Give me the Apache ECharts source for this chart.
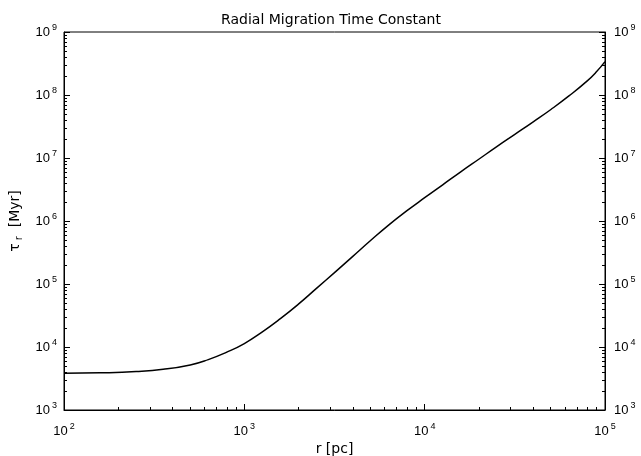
<!DOCTYPE html>
<html>
<head>
<meta charset="utf-8">
<script src="https://cdn.jsdelivr.net/npm/echarts@6/dist/echarts.min.js"></script>
<style>
  html, body { margin: 0; padding: 0; background: #fff; }
  #chart { width: 641px; height: 456px; }
</style>
</head>
<body>
<div id="chart"></div>
<script>
// Galactocentric radius r [pc]
const radius = [100, 158.5, 251.2, 354.8, 501.2, 631.0, 794.3, 1000, 1258.9,
  1584.9, 1995.3, 2511.9, 3162.3, 3981.1, 5011.9, 6309.6, 7943.3, 10000,
  12589, 15849, 19953, 25119, 31623, 39811, 50119, 63096, 79433, 89125, 100000];
// Radial migration time constant tau_r [Myr]
const tau = [3828, 3890, 4074, 4416, 5188, 6310, 8222, 11350, 17380, 28180,
  47860, 85110, 151400, 272300, 489800, 861000, 1445000, 2344000, 3758000,
  6026000, 9550000, 15140000, 23710000, 37150000, 58880000, 96610000,
  166000000, 229100000, 338800000];

// Axis ranges and decade tick values
const xRange = [100, 100000];
const yRange = [1000, 1000000000];
const xDecades = [100, 1000, 10000, 100000];
const yDecades = [1e3, 1e4, 1e5, 1e6, 1e7, 1e8, 1e9];

// Minor tick positions (2..9 times each decade)
function minorValues(decades) {
  const out = [];
  for (let i = 0; i < decades.length - 1; i++) {
    for (let k = 2; k <= 9; k++) out.push(decades[i] * k);
  }
  return out;
}

const FONT = 'Liberation Sans, Arial, Helvetica, sans-serif';
const WIDE = 'DejaVu Sans, Verdana, sans-serif';

function powLabel(v) {
  const e = Math.round(Math.log10(v));
  return '{b|10}{s|' + e + '}';
}
const powRich = {
  b: { fontSize: 13, fontFamily: FONT, color: '#000' },
  s: { fontSize: 9, fontFamily: FONT, color: '#000', padding: [0, 0, 9, 2] }
};

const lineStyle = { color: '#000', width: 1 };

function majorAxis(range, decades, pos, extra) {
  return Object.assign({
    type: 'log', logBase: 10, position: pos,
    min: range[0], max: range[1],
    axisLine: { show: true, onZero: false, lineStyle: lineStyle },
    axisTick: { show: true, inside: true, length: 6, customValues: decades, lineStyle: lineStyle },
    minorTick: { show: false },
    splitLine: { show: false },
    axisLabel: { show: true, formatter: powLabel, rich: powRich, customValues: decades }
  }, extra || {});
}

function minorAxis(range, decades, pos) {
  return {
    type: 'log', logBase: 10, position: pos,
    min: range[0], max: range[1],
    axisLine: { show: false, onZero: false },
    axisTick: { show: true, inside: true, length: 3, customValues: minorValues(decades), lineStyle: lineStyle },
    minorTick: { show: false },
    splitLine: { show: false },
    axisLabel: { show: false }
  };
}

const chart = echarts.init(document.getElementById('chart'), null, { renderer: 'canvas' });
chart.setOption({
  animation: false,
  backgroundColor: '#fff',
  title: {
    text: 'Radial Migration Time Constant',
    left: 326, top: 8, textAlign: 'center',
    textStyle: { fontSize: 14, fontWeight: 'normal', fontFamily: WIDE, color: '#000' }
  },
  grid: {
    left: 64, right: 36, top: 32, bottom: 46,
    outerBoundsMode: 'none', containLabel: false,
    show: true, borderColor: '#000', borderWidth: 1, backgroundColor: '#fff'
  },
  xAxis: [
    majorAxis(xRange, xDecades, 'bottom', {
      name: 'r [pc]', nameLocation: 'middle', nameGap: 32,
      nameTextStyle: { fontSize: 14, fontFamily: WIDE, color: '#000' },
      axisLabel: { show: true, formatter: powLabel, rich: powRich, customValues: xDecades, margin: 12 }
    }),
    minorAxis(xRange, xDecades, 'bottom')
  ],
  yAxis: [
    majorAxis(yRange, yDecades, 'left', {
      name: '{t|τ}{r|r}  [Myr]', nameLocation: 'middle', nameGap: 37, nameRotate: 90,
      nameTextStyle: {
        fontSize: 14, fontFamily: WIDE, color: '#000',
        rich: {
          t: { fontSize: 14, fontFamily: WIDE, color: '#000' },
          r: { fontSize: 10, fontFamily: WIDE, color: '#000', padding: [9, 0, 0, 3] }
        }
      },
      axisLabel: { show: true, formatter: powLabel, rich: powRich, customValues: yDecades, margin: 7 }
    }),
    minorAxis(yRange, yDecades, 'left'),
    majorAxis(yRange, yDecades, 'right', {
      axisLabel: { show: true, formatter: powLabel, rich: powRich, customValues: yDecades, margin: 9 }
    }),
    minorAxis(yRange, yDecades, 'right')
  ],
  series: [{
    type: 'line',
    xAxisIndex: 0, yAxisIndex: 0,
    data: radius.map((r, i) => [r, tau[i]]),
    smooth: 0.5,
    showSymbol: false,
    lineStyle: { color: '#000', width: 1.5 },
    clip: true
  }]
});
</script>
</body>
</html>
